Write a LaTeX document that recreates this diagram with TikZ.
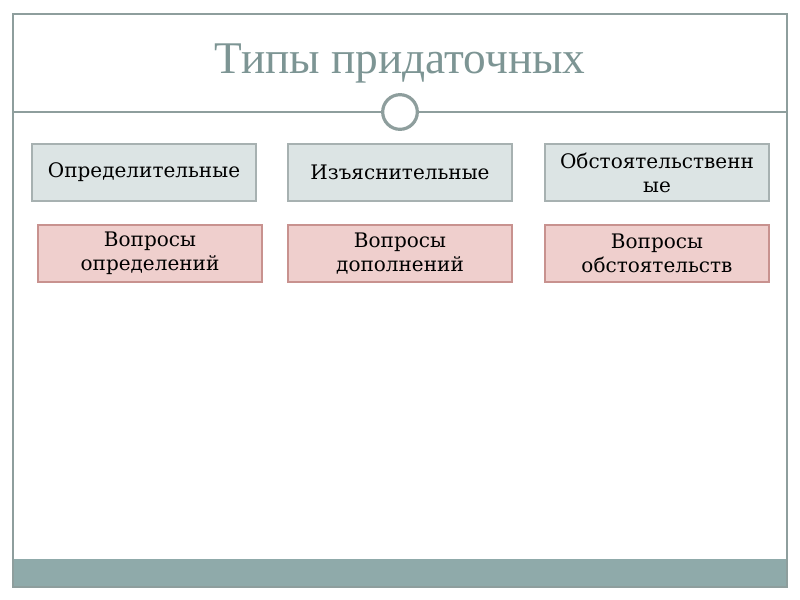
\documentclass[tikz,border=0pt]{standalone}
\usepackage{fontspec}
\setmainfont{DejaVu Serif}
\newfontfamily\titlefont{Liberation Serif}
\definecolor{framegray}{HTML}{8E9E9D}
\definecolor{titlegray}{HTML}{7D9594}
\definecolor{bandgray}{HTML}{8FAAAA}
\definecolor{typefill}{HTML}{DCE4E4}
\definecolor{typeline}{HTML}{A7B1B1}
\definecolor{askfill}{HTML}{EFCFCD}
\definecolor{askline}{HTML}{C8928F}
\tikzset{
  typebox/.style={draw=typeline,fill=typefill,line width=1pt,minimum width=168pt,
    minimum height=42.75pt,align=center,font=\fontsize{15}{18}\selectfont,inner sep=2pt},
  askbox/.style={draw=askline,fill=askfill,line width=1pt,minimum width=168pt,
    minimum height=42.75pt,align=center,font=\fontsize{15}{18}\selectfont,inner sep=2pt}
}
\begin{document}
\begin{tikzpicture}[x=0.75pt,y=-0.75pt]
    \useasboundingbox (0,0) rectangle (800,600);
    % slide frame
    \fill[bandgray] (13,559) rectangle (787,587);
    \draw[framegray,line width=0.8pt] (13,14) rectangle (787,587);
    % title
    \node[titlegray,font=\titlefont\fontsize{34}{40}\selectfont] (title) at (400,63) {Типы придаточных};
    % divider with ring
    \node[draw=framegray,line width=2.4pt,circle,minimum size=26pt,inner sep=0pt] (ring) at (400,112) {};
    \coordinate (divl) at (13,112);
    \coordinate (divr) at (787,112);
    \draw[framegray,line width=0.8pt] (divl) -- (ring.west);
    \draw[framegray,line width=0.8pt] (ring.east) -- (divr);
    % types
    \node[typebox] (defn) at (144,172.5) {Определительные};
    \node[typebox] (expl) at (400,172.5) {Изъяснительные};
    \node[typebox] (circ) at (657,172.5) {Обстоятельственн\\ые};
    % questions
    \node[askbox] (qdefn) at (150,253.5) {Вопросы\\определений};
    \node[askbox] (qexpl) at (400,253.5) {Вопросы\\дополнений};
    \node[askbox] (qcirc) at (657,253.5) {Вопросы\\обстоятельств};
\end{tikzpicture}
\end{document}
